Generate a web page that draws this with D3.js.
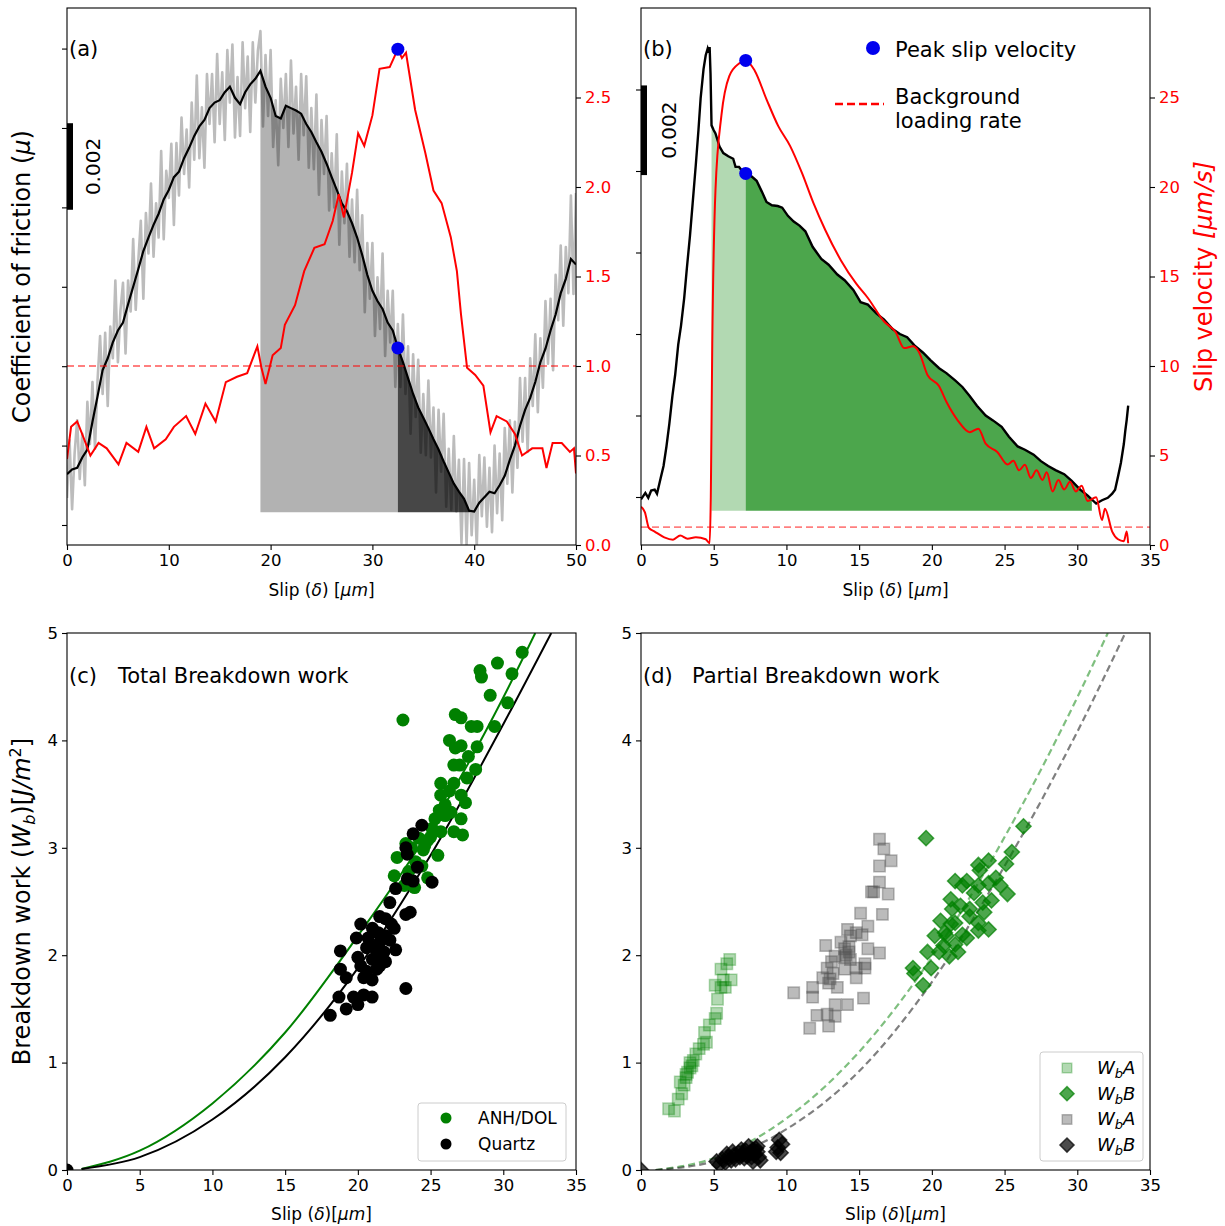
<!DOCTYPE html>
<html><head><meta charset="utf-8">
<script src="https://cdn.jsdelivr.net/npm/d3@7"></script>
<style>body{margin:0;background:#fff}text{font-family:"DejaVu Sans",sans-serif}</style>
</head><body><svg id="c" width="1225" height="1226"></svg>
<script>
// ---------------- DATA ----------------
// Panel (a): friction in axis-tick units (tick spacing ~0.0018), slip in um
const aFrictionTicks = [0,1,2,3,4,5,6];
const aVelTicks = [0,0.5,1.0,1.5,2.0,2.5];
const aSlipTicks = [0,10,20,30,40,50];
const aBlackStep = 0.5;
const aBlack = [0.64,0.70,0.72,0.85,0.95,1.30,1.62,1.95,2.10,2.30,2.45,2.55,2.78,3.0,3.22,3.45,3.62,3.78,3.92,4.10,
4.22,4.38,4.45,4.62,4.75,4.90,5.02,5.10,5.25,5.32,5.35,5.45,5.52,5.38,5.30,5.45,5.55,5.62,5.72,5.52,
5.38,5.15,5.12,5.28,5.25,5.22,5.18,5.05,4.95,4.82,4.70,4.55,4.38,4.22,4.05,3.95,3.80,3.62,3.40,3.15,
2.95,2.82,2.72,2.55,2.45,2.23,2.05,1.85,1.65,1.48,1.35,1.22,1.08,0.95,0.80,0.66,0.52,0.42,0.33,0.18,
0.17,0.28,0.35,0.42,0.40,0.50,0.62,0.82,1.00,1.25,1.45,1.60,1.80,2.05,2.22,2.45,2.65,2.92,3.10,3.35,3.28];
const aRawStep = 0.25;
const aRaw = [0.34,1.07,0.20,0.91,1.32,0.58,1.15,0.50,1.55,1.02,1.80,0.96,1.82,2.38,1.65,2.42,1.50,2.50,2.10,3.08,
2.05,2.70,3.05,2.16,3.08,2.69,3.60,2.71,3.32,3.83,2.85,3.93,3.42,4.30,3.38,4.05,3.62,4.71,3.60,4.46,
4.12,4.80,3.78,4.81,4.15,5.13,4.42,4.98,4.25,5.32,4.60,5.66,4.62,5.26,4.50,5.68,5.05,5.68,4.82,5.93,
5.05,5.70,4.85,5.98,5.32,6.05,4.88,5.64,4.90,6.08,5.25,5.90,4.95,6.08,5.32,5.97,6.22,5.02,5.92,5.15,
5.98,4.76,5.35,4.53,5.62,5.00,5.68,4.76,5.85,4.93,5.52,4.60,5.68,4.91,5.65,4.50,5.25,4.48,5.42,4.16,
5.10,4.42,5.15,3.96,4.68,4.00,4.92,3.53,4.45,3.80,4.55,3.38,4.10,3.31,4.22,3.21,3.90,2.68,3.55,2.85,
3.55,2.38,3.12,2.47,3.42,2.13,2.95,2.30,2.95,1.74,2.53,1.74,2.65,1.65,2.25,1.15,2.15,1.36,2.08,0.91,
1.65,0.88,1.82,0.85,1.48,0.41,1.45,0.67,1.40,0.23,0.96,0.19,1.12,0.17,0.82,-0.23,0.83,-0.25,0.78,-0.13,
0.57,-0.28,0.88,0.11,0.85,-0.02,0.72,-0.09,1.00,0.15,0.90,0.06,1.22,0.52,1.32,0.41,1.30,0.72,1.85,1.05,
1.85,0.92,2.10,1.50,2.40,1.42,2.35,1.73,2.82,2.03,2.85,1.95,3.15,2.58,3.52,2.51,3.50,2.92,4.15,2.91,4.18];
const aVelSlip = [0,0.4,1.0,1.56,2.3,3.1,3.9,5.06,5.84,7.0,7.8,8.56,9.7,10.5,11.7,12.6,13.6,14.6,15.6,16.7,
17.7,18.7,19.1,19.5,20.2,21.0,21.4,22.4,23.3,24.3,25.3,26.1,26.7,27.2,28.0,28.6,29.2,30.0,30.7,31.7,
32.5,32.9,33.3,34.2,35.2,36.0,36.8,37.7,38.3,38.7,39.3,40.1,40.9,41.6,42.2,43.2,44.0,44.7,45.7,46.7,
47.1,47.7,48.6,49.4,49.8,50];
const aVel = [0.48,0.66,0.69,0.61,0.50,0.57,0.54,0.45,0.57,0.52,0.66,0.54,0.59,0.66,0.72,0.62,0.79,0.69,0.91,0.94,
0.96,1.11,0.99,0.90,1.06,1.10,1.23,1.34,1.53,1.66,1.68,1.81,1.96,1.83,2.08,2.30,2.23,2.40,2.66,2.67,
2.77,2.72,2.75,2.43,2.19,1.98,1.91,1.72,1.53,1.29,0.99,0.95,0.89,0.63,0.72,0.69,0.62,0.50,0.54,0.54,
0.43,0.57,0.57,0.52,0.54,0.40];
const aFillLight = [19.0, 32.5];
const aFillDark = [32.5, 39.6];
const aFillBase = 0.16;
const aPeak = {slip: 32.5, vel: 2.77, fric: 2.23};
const aLoadRate = 1.0;
const aScaleBar = [3.97, 5.06];

// Panel (b)
const bFrictionTicks = [0,1,2,3,4,5];
const bVelTicks = [0,5,10,15,20,25];
const bSlipTicks = [0,5,10,15,20,25,30,35];
const bBlack = [[0,-0.03],[0.3,0.05],[0.5,-0.01],[0.7,0.08],[0.94,0.09],[1.1,0.04],[1.35,0.23],[1.55,0.38],[1.75,0.62],[1.95,0.9],
[2.16,1.24],[2.35,1.5],[2.56,1.87],[2.75,2.1],[2.97,2.44],[3.15,2.8],[3.37,3.21],[3.55,3.6],[3.77,4.08],[3.95,4.5],
[4.1,4.89],[4.3,5.25],[4.45,5.42],[4.58,5.5],[4.65,5.45],[4.72,5.52],[4.78,5.2],[4.85,4.56],[5.0,4.5],[5.12,4.46],
[5.4,4.3],[5.66,4.22],[6.0,4.18],[6.34,4.15],[6.5,4.05],[6.74,4.05],[7.0,3.99],[7.2,3.97],[7.5,3.95],[7.95,3.88],
[8.3,3.75],[8.63,3.62],[9.0,3.58],[9.4,3.57],[9.71,3.55],[10.1,3.45],[10.5,3.38],[10.9,3.33],[11.3,3.26],[11.8,3.07],
[12.4,2.92],[12.9,2.85],[13.5,2.73],[14.0,2.66],[14.6,2.54],[15.1,2.39],[15.6,2.36],[16.2,2.25],[16.7,2.18],[17.3,2.06],
[17.8,2.0],[18.3,1.96],[18.8,1.86],[19.4,1.77],[19.9,1.68],[20.5,1.58],[21.0,1.52],[21.6,1.43],[22.1,1.35],[22.6,1.24],
[23.1,1.12],[23.7,1.0],[24.2,0.94],[24.8,0.86],[25.3,0.74],[25.9,0.62],[26.4,0.58],[27.0,0.52],[27.5,0.44],[28.0,0.38],
[28.5,0.33],[29.1,0.28],[29.6,0.2],[30.2,0.09],[30.7,0.02],[31.3,-0.08],[31.7,-0.04],[32.1,-0.01],[32.4,0.04],[32.6,0.09],
[32.8,0.25],[33.0,0.42],[33.2,0.65],[33.3,0.81],[33.4,0.95],[33.5,1.12]];
const bVel = [[0,2.14],[0.27,1.82],[0.54,0.96],[0.94,0.75],[1.6,0.43],[2.2,0.3],[2.7,0.53],[3.2,0.35],[3.77,0.43],[4.45,0.32],
[4.72,0.1],[4.8,2.67],[4.9,11.2],[5.12,19.8],[5.53,24.0],[6.07,26.2],[6.74,26.9],[7.2,27.07],[7.82,26.5],[8.63,24.9],
[9.44,23.4],[10.25,22.3],[11.06,20.8],[11.86,19.1],[12.67,17.6],[13.75,15.9],[14.8,14.6],[15.6,13.8],[16.7,12.5],[17.5,11.9],
[18.1,11.0],[18.7,11.1],[19.1,10.8],[19.7,9.5],[20.5,8.87],[21.0,8.0],[21.8,6.94],[22.6,6.3],[23.2,6.5],[23.7,5.66],
[24.5,5.2],[25.2,4.5],[25.6,4.7],[26.0,4.17],[26.4,4.49],[26.8,3.74],[27.2,4.17],[27.6,3.63],[27.9,4.06],[28.3,2.99],
[28.7,3.63],[29.1,3.1],[29.5,3.53],[29.9,2.99],[30.3,3.31],[30.7,2.46],[31.3,2.67],[31.7,1.39],[31.9,2.03],[32.4,0.75],
[32.8,0.32],[33.2,0.21],[33.4,0.75],[33.5,0.1]];
const bFillLight = [4.85, 7.2];
const bFillDark = [7.2, 31.0];
const bFillBase = -0.17;
const bPeak = {slip: 7.2, vel: 27.07, fric: 3.97};
const bLoadRate = 1.0;
const bScaleBar = [3.95, 5.05];

// Panel (c)
const cSlipTicks = [0,5,10,15,20,25,30,35];
const cWTicks = [0,1,2,3,4,5];
const cAnhDol = [[23.1,4.19],[31.3,4.82],[29.6,4.72],[28.4,4.65],[28.5,4.59],[30.6,4.62],[29.1,4.42],[30.3,4.35],[26.7,4.24],[27.1,4.21],
[29.4,4.13],[27.8,4.13],[28.2,4.13],[26.3,4.0],[26.7,3.93],[27.1,3.95],[28.2,3.94],[27.6,3.85],[26.6,3.77],[27.0,3.77],
[28.1,3.73],[27.5,3.65],[25.7,3.6],[26.6,3.6],[26.3,3.53],[27.1,3.49],[25.7,3.49],[27.4,3.42],[26.0,3.40],[25.6,3.35],
[26.4,3.33],[25.3,3.27],[27.1,3.27],[25.1,3.18],[25.7,3.15],[26.6,3.15],[27.2,3.12],[24.2,3.09],[24.8,3.07],[23.3,3.04],
[23.7,3.0],[24.5,2.98],[25.5,2.93],[22.7,2.91],[23.97,2.87],[24.4,2.83],[22.5,2.74],[24.8,2.72],[23.2,2.65],[23.9,2.63],
[24.6,3.02],[25.0,3.1],[26.0,3.3],[23.5,2.78]];
const cQuartz = [[24.4,3.21],[23.8,3.13],[23.3,3.0],[23.4,2.94],[24.1,2.82],[23.4,2.71],[25.1,2.68],[23.8,2.69],[22.6,2.62],[22.2,2.49],
[23.6,2.40],[23.3,2.38],[21.5,2.36],[21.9,2.34],[22.3,2.29],[20.2,2.29],[22.5,2.25],[21.0,2.25],[21.4,2.21],[19.9,2.16],
[21.9,2.18],[20.7,2.16],[21.5,2.12],[22.2,2.14],[21.1,2.08],[20.6,2.07],[22.6,2.05],[18.8,2.04],[21.8,2.03],[21.3,2.0],
[20.0,1.98],[21.0,1.96],[21.9,1.94],[20.2,1.90],[21.5,1.90],[20.6,1.85],[21.3,1.87],[18.8,1.87],[19.2,1.79],[20.4,1.79],
[20.98,1.77],[23.3,1.69],[19.7,1.61],[18.7,1.61],[20.4,1.63],[20.98,1.61],[20.0,1.54],[19.2,1.5],[18.1,1.44],[0,0]];
const cFitAnhDol = [[1,0.01],[5,0.18],[10,0.62],[15,1.28],[20,2.18],[25,3.18],[30,4.4],[32.2,5.0]];
const cFitQuartz = [[1,0.01],[5,0.12],[10,0.47],[15,1.05],[20,1.88],[25,2.93],[30,4.15],[33.3,5.0]];

// Panel (d)
const dGreenA = [[1.9,0.57],[2.3,0.55],[2.56,0.66],[2.8,0.71],[2.97,0.79],[3.1,0.86],[3.2,0.91],[3.37,0.95],[3.5,0.97],[3.6,1.02],
[3.77,1.08],[4.0,1.13],[4.3,1.17],[4.5,1.19],[4.37,1.28],[4.7,1.35],[5.1,1.41],[5.2,1.46],[5.26,1.59],[5.1,1.72],
[5.5,1.70],[5.66,1.77],[5.5,1.87],[5.9,1.92],[6.1,1.96],[6.2,1.77],[5.8,1.70],[2.7,0.82],[3.1,0.89],[3.37,1.0]];
const dGreenB = [[19.6,3.09],[26.3,3.2],[25.5,2.96],[25.1,2.85],[23.2,2.84],[23.9,2.88],[23.3,2.79],[22.4,2.69],[21.6,2.69],[24.7,2.65],
[25.2,2.57],[23.9,2.67],[23.2,2.65],[22.1,2.65],[22.9,2.58],[21.3,2.52],[24.1,2.51],[23.5,2.49],[21.97,2.46],[21.4,2.43],
[22.6,2.43],[20.6,2.32],[21.6,2.30],[23.2,2.30],[23.9,2.24],[23.2,2.23],[22.4,2.16],[20.2,2.18],[21.0,2.18],[20.8,2.09],
[21.6,2.10],[22.1,2.19],[21.8,2.03],[21.2,1.99],[19.7,2.03],[20.5,2.03],[20.9,2.21],[18.7,1.88],[18.8,1.83],[19.95,1.88],
[19.4,1.72],[21.3,2.29],[22.6,2.36],[23.6,2.40],[24.4,2.72]];
const dGrayA = [[16.4,3.08],[16.7,2.99],[17.2,2.88],[16.4,2.83],[16.4,2.68],[16.0,2.59],[15.85,2.59],[17.0,2.57],[15.1,2.39],[16.6,2.38],
[15.6,2.27],[14.2,2.24],[14.8,2.21],[15.2,2.19],[14.4,2.18],[13.75,2.12],[12.7,2.09],[14.0,2.06],[15.6,2.06],[14.3,2.03],
[16.4,2.02],[13.35,1.99],[14.0,1.98],[14.4,1.96],[13.1,1.94],[15.4,1.92],[14.8,1.88],[12.8,1.88],[14.0,1.87],[15.4,1.88],
[13.2,1.83],[12.5,1.79],[14.8,1.79],[12.9,1.74],[13.5,1.70],[11.8,1.70],[10.5,1.65],[11.8,1.61],[15.3,1.60],[14.2,1.54],
[13.35,1.54],[12.1,1.44],[13.35,1.43],[12.8,1.45],[12.9,1.34],[11.6,1.32],[14.1,2.0],[14.3,2.08],[13.0,1.78]];
const dBlackB = [[5.2,0.08],[5.4,0.05],[5.6,0.10],[5.8,0.07],[6.0,0.12],[6.2,0.09],[6.4,0.14],[6.5,0.1],[6.7,0.16],[6.8,0.12],
[7.0,0.15],[7.1,0.11],[7.2,0.18],[7.3,0.13],[7.4,0.22],[7.5,0.16],[7.6,0.12],[7.7,0.19],[7.8,0.14],[7.9,0.2],
[8.0,0.17],[8.1,0.12],[8.2,0.09],[5.9,0.15],[6.3,0.17],[6.9,0.19],[7.7,0.08],[8.0,0.22],[9.3,0.17],[9.5,0.28],
[9.7,0.24],[9.6,0.16],[9.4,0.21],[0,0]];
const dFitGreen = [[1,0.0],[5,0.11],[10,0.48],[15,1.1],[20,1.98],[25,3.1],[30,4.4],[32.1,5.0]];
const dFitGray = [[1,0.0],[5,0.08],[10,0.38],[15,0.92],[20,1.75],[25,2.83],[30,4.08],[33.3,5.0]];

// ---------------- DRAW ----------------
const svg = d3.select("#c");
const FONT = '"DejaVu Sans",sans-serif';
const TICK_FS = 16.5, XLAB_FS = 17, YLAB_FS = 24, TITLE_FS = 21;
const P = {
  a:{l:67,r:576,t:8,b:545}, b:{l:641,r:1150,t:8,b:545},
  c:{l:67,r:576,t:633,b:1170}, d:{l:641,r:1150,t:633,b:1170}
};
let clipN = 0;
function clip(p){
  const id = "clip"+(clipN++);
  svg.append("clipPath").attr("id",id).append("rect")
    .attr("x",p.l).attr("y",p.t).attr("width",p.r-p.l).attr("height",p.b-p.t);
  return "url(#"+id+")";
}
function styleAxis(g, color){
  g.select(".domain").remove();
  g.selectAll(".tick line").attr("stroke","#000").attr("stroke-width",1.1);
  g.selectAll(".tick text").attr("font-family",FONT).attr("font-size",TICK_FS).attr("fill",color||"#000");
}
function frame(p){
  svg.append("rect").attr("x",p.l).attr("y",p.t).attr("width",p.r-p.l).attr("height",p.b-p.t)
    .attr("fill","none").attr("stroke","#000").attr("stroke-width",1.1);
}
function interp(pts, x){
  for(let i=1;i<pts.length;i++){
    if(pts[i][0]>=x){const a=pts[i-1],b=pts[i];const t=(x-a[0])/(b[0]-a[0]);return a[1]+t*(b[1]-a[1]);}
  }
  return pts[pts.length-1][1];
}
function fillPts(pts, x0, x1){
  const inner = pts.filter(d=>d[0]>x0 && d[0]<x1);
  return [[x0,interp(pts,x0)], ...inner, [x1,interp(pts,x1)]];
}
function addItalic(t, s){ t.append("tspan").attr("font-style","italic").text(s); }
function slipLabel(p, y, spaced){
  const xl=svg.append("text").attr("x",(p.l+p.r)/2).attr("y",y).attr("text-anchor","middle").attr("font-size",XLAB_FS);
  xl.append("tspan").text("Slip ("); addItalic(xl,"δ"); xl.append("tspan").text(spaced?") [":")["); addItalic(xl,"μm"); xl.append("tspan").text("]");
}

// ---- Panel (a) ----
(function(){
  const p=P.a;
  const x=d3.scaleLinear().domain([0,50]).range([p.l,p.r]);
  const yL=d3.scaleLinear().domain([-0.252,6.511]).range([p.b,p.t]);
  const yR=d3.scaleLinear().domain([0,3]).range([p.b,p.t]);
  const cp=clip(p);
  const g=svg.append("g").attr("clip-path",cp);
  const black=aBlack.map((v,i)=>[i*aBlackStep,v]);
  const raw=aRaw.map((v,i)=>[i*aRawStep,v]);
  g.append("path").datum(raw).attr("fill","none").attr("stroke","#a6a6a6").attr("stroke-opacity",0.75).attr("stroke-width",2.6)
    .attr("stroke-linejoin","round").attr("d",d3.line().x(d=>x(d[0])).y(d=>yL(d[1])));
  const area=d3.area().x(d=>x(d[0])).y0(yL(aFillBase)).y1(d=>yL(d[1]));
  g.append("path").datum(fillPts(black,aFillLight[0],aFillLight[1])).attr("fill","#000").attr("fill-opacity",0.3).attr("d",area);
  g.append("path").datum(fillPts(black,aFillDark[0],aFillDark[1])).attr("fill","#000").attr("fill-opacity",0.72).attr("d",area);
  g.append("path").datum(black).attr("fill","none").attr("stroke","#000").attr("stroke-width",2.2)
    .attr("d",d3.line().x(d=>x(d[0])).y(d=>yL(d[1])));
  g.append("line").attr("x1",p.l).attr("x2",p.r).attr("y1",yR(aLoadRate)).attr("y2",yR(aLoadRate))
    .attr("stroke","red").attr("stroke-opacity",0.5).attr("stroke-width",1.8).attr("stroke-dasharray","7,4");
  g.append("path").datum(aVelSlip.map((s,i)=>[s,aVel[i]])).attr("fill","none").attr("stroke","red").attr("stroke-width",2)
    .attr("d",d3.line().x(d=>x(d[0])).y(d=>yR(d[1])));
  svg.append("circle").attr("cx",x(aPeak.slip)).attr("cy",yR(aPeak.vel)).attr("r",6.5).attr("fill","#0000ee");
  svg.append("circle").attr("cx",x(aPeak.slip)).attr("cy",yL(aPeak.fric)).attr("r",6.5).attr("fill","#0000ee");
  frame(p);
  svg.append("g").attr("transform",`translate(0,${p.b})`).call(d3.axisBottom(x).tickValues(aSlipTicks).tickSize(5).tickPadding(4)).call(g=>styleAxis(g));
  svg.append("g").attr("transform",`translate(${p.l},0)`).call(d3.axisLeft(yL).tickValues(aFrictionTicks).tickFormat("").tickSize(5)).call(g=>styleAxis(g));
  svg.append("g").attr("transform",`translate(${p.r},0)`).call(d3.axisRight(yR).tickValues(aVelTicks).tickFormat(d3.format(".1f")).tickSize(5).tickPadding(4)).call(g=>styleAxis(g,"red"));
  svg.append("rect").attr("x",p.l).attr("y",yL(aScaleBar[1])).attr("width",6).attr("height",yL(aScaleBar[0])-yL(aScaleBar[1])).attr("fill","#000");
  svg.append("text").attr("transform",`translate(${p.l+33},${(yL(aScaleBar[0])+yL(aScaleBar[1]))/2}) rotate(-90)`)
    .attr("text-anchor","middle").attr("font-size",20).text("0.002");
  svg.append("text").attr("x",p.l+2).attr("y",56).attr("font-size",TITLE_FS).text("(a)");
  slipLabel(p,596,true);
  const yl=svg.append("text").attr("transform",`translate(30,${(p.t+p.b)/2}) rotate(-90)`).attr("text-anchor","middle").attr("font-size",YLAB_FS);
  yl.append("tspan").text("Coefficient of friction ("); addItalic(yl,"μ"); yl.append("tspan").text(")");
})();

// ---- Panel (b) ----
(function(){
  const p=P.b;
  const x=d3.scaleLinear().domain([0,35]).range([p.l,p.r]);
  const yL=d3.scaleLinear().domain([-0.589,6.0]).range([p.b,p.t]);
  const yR=d3.scaleLinear().domain([0,30]).range([p.b,p.t]);
  const cp=clip(p);
  const g=svg.append("g").attr("clip-path",cp);
  const area=d3.area().x(d=>x(d[0])).y0(yL(bFillBase)).y1(d=>yL(d[1]));
  g.append("path").datum(fillPts(bBlack,bFillLight[0],bFillLight[1])).attr("fill","green").attr("fill-opacity",0.3).attr("d",area);
  g.append("path").datum(fillPts(bBlack,bFillDark[0],bFillDark[1])).attr("fill","green").attr("fill-opacity",0.7).attr("d",area);
  g.append("path").datum(bBlack).attr("fill","none").attr("stroke","#000").attr("stroke-width",2.4)
    .attr("d",d3.line().x(d=>x(d[0])).y(d=>yL(d[1])));
  g.append("line").attr("x1",p.l).attr("x2",p.r).attr("y1",yR(bLoadRate)).attr("y2",yR(bLoadRate))
    .attr("stroke","red").attr("stroke-opacity",0.5).attr("stroke-width",1.8).attr("stroke-dasharray","7,4");
  g.append("path").datum(bVel).attr("fill","none").attr("stroke","red").attr("stroke-width",2)
    .attr("d",d3.line().curve(d3.curveMonotoneX).x(d=>x(d[0])).y(d=>yR(d[1])));
  svg.append("circle").attr("cx",x(bPeak.slip)).attr("cy",yR(bPeak.vel)).attr("r",6.5).attr("fill","#0000ee");
  svg.append("circle").attr("cx",x(bPeak.slip)).attr("cy",yL(bPeak.fric)).attr("r",6.5).attr("fill","#0000ee");
  frame(p);
  svg.append("g").attr("transform",`translate(0,${p.b})`).call(d3.axisBottom(x).tickValues(bSlipTicks).tickSize(5).tickPadding(4)).call(g=>styleAxis(g));
  svg.append("g").attr("transform",`translate(${p.l},0)`).call(d3.axisLeft(yL).tickValues(bFrictionTicks).tickFormat("").tickSize(5)).call(g=>styleAxis(g));
  svg.append("g").attr("transform",`translate(${p.r},0)`).call(d3.axisRight(yR).tickValues(bVelTicks).tickFormat(d3.format("d")).tickSize(5).tickPadding(4)).call(g=>styleAxis(g,"red"));
  svg.append("rect").attr("x",p.l).attr("y",yL(bScaleBar[1])).attr("width",6).attr("height",yL(bScaleBar[0])-yL(bScaleBar[1])).attr("fill","#000");
  svg.append("text").attr("transform",`translate(${p.l+35},${(yL(bScaleBar[0])+yL(bScaleBar[1]))/2}) rotate(-90)`)
    .attr("text-anchor","middle").attr("font-size",20).text("0.002");
  svg.append("text").attr("x",p.l+2).attr("y",56).attr("font-size",TITLE_FS).text("(b)");
  // legend
  svg.append("circle").attr("cx",873).attr("cy",48).attr("r",7).attr("fill","#0000ee");
  svg.append("text").attr("x",895).attr("y",57).attr("font-size",TITLE_FS).text("Peak slip velocity");
  svg.append("line").attr("x1",835).attr("x2",884).attr("y1",104).attr("y2",104).attr("stroke","red").attr("stroke-width",2.5).attr("stroke-dasharray","8,4");
  svg.append("text").attr("x",895).attr("y",104).attr("font-size",TITLE_FS).text("Background");
  svg.append("text").attr("x",895).attr("y",128).attr("font-size",TITLE_FS).text("loading rate");
  slipLabel(p,596,true);
  const yl=svg.append("text").attr("transform",`translate(1212,${(p.t+p.b)/2}) rotate(-90)`).attr("text-anchor","middle").attr("font-size",YLAB_FS).attr("fill","red");
  yl.append("tspan").text("Slip velocity "); addItalic(yl,"[μm/s]");
})();

// ---- Panel (c) ----
(function(){
  const p=P.c;
  const x=d3.scaleLinear().domain([0,35]).range([p.l,p.r]);
  const y=d3.scaleLinear().domain([0,5]).range([p.b,p.t]);
  const cp=clip(p);
  const g=svg.append("g").attr("clip-path",cp);
  const line=d3.line().curve(d3.curveMonotoneX).x(d=>x(d[0])).y(d=>y(d[1]));
  g.append("path").datum(cFitAnhDol).attr("fill","none").attr("stroke","green").attr("stroke-width",2).attr("d",line);
  g.append("path").datum(cFitQuartz).attr("fill","none").attr("stroke","#000").attr("stroke-width",2).attr("d",line);
  g.selectAll(".gq").data(cAnhDol).join("circle").attr("cx",d=>x(d[0])).attr("cy",d=>y(d[1])).attr("r",6.5).attr("fill","green");
  g.selectAll(".bq").data(cQuartz).join("circle").attr("cx",d=>x(d[0])).attr("cy",d=>y(d[1])).attr("r",6.5).attr("fill","#000");
  frame(p);
  svg.append("g").attr("transform",`translate(0,${p.b})`).call(d3.axisBottom(x).tickValues(cSlipTicks).tickSize(5).tickPadding(4)).call(g=>styleAxis(g));
  svg.append("g").attr("transform",`translate(${p.l},0)`).call(d3.axisLeft(y).tickValues(cWTicks).tickFormat(d3.format("d")).tickSize(5).tickPadding(4)).call(g=>styleAxis(g));
  svg.append("text").attr("x",p.l+2).attr("y",683).attr("font-size",TITLE_FS).text("(c)");
  svg.append("text").attr("x",118).attr("y",683).attr("font-size",TITLE_FS).text("Total Breakdown work");
  // legend
  svg.append("rect").attr("x",418).attr("y",1103).attr("width",148).attr("height",58).attr("rx",3)
    .attr("fill","#fff").attr("fill-opacity",0.8).attr("stroke","#ccc").attr("stroke-width",1);
  svg.append("circle").attr("cx",446).attr("cy",1118).attr("r",5.5).attr("fill","green");
  svg.append("circle").attr("cx",446).attr("cy",1144).attr("r",5.5).attr("fill","#000");
  svg.append("text").attr("x",478).attr("y",1124).attr("font-size",17).text("ANH/DOL");
  svg.append("text").attr("x",478).attr("y",1150).attr("font-size",17).text("Quartz");
  slipLabel(p,1220,false);
  const yl=svg.append("text").attr("transform",`translate(30,${(p.t+p.b)/2}) rotate(-90)`).attr("text-anchor","middle").attr("font-size",YLAB_FS);
  yl.append("tspan").text("Breakdown work (");
  addItalic(yl,"W");
  yl.append("tspan").attr("font-style","italic").attr("font-size",16).attr("dy",5).text("b");
  yl.append("tspan").attr("dy",-5).text(")[");
  addItalic(yl,"J/m");
  yl.append("tspan").attr("font-size",16).attr("dy",-9).text("2");
  yl.append("tspan").attr("dy",9).text("]");
})();

// ---- Panel (d) ----
(function(){
  const p=P.d;
  const x=d3.scaleLinear().domain([0,35]).range([p.l,p.r]);
  const y=d3.scaleLinear().domain([0,5]).range([p.b,p.t]);
  const cp=clip(p);
  const g=svg.append("g").attr("clip-path",cp);
  const line=d3.line().curve(d3.curveMonotoneX).x(d=>x(d[0])).y(d=>y(d[1]));
  g.append("path").datum(dFitGreen).attr("fill","none").attr("stroke","green").attr("stroke-opacity",0.5).attr("stroke-width",2.2).attr("stroke-dasharray","7,4").attr("d",line);
  g.append("path").datum(dFitGray).attr("fill","none").attr("stroke","#000").attr("stroke-opacity",0.5).attr("stroke-width",2.2).attr("stroke-dasharray","7,4").attr("d",line);
  const sq=d3.symbol().type(d3.symbolSquare).size(130);
  const dia=d3.symbol().type(d3.symbolSquare).size(115);
  function pts(data,shape,rot,color,op){
    g.append("g").selectAll("path").data(data).join("path")
      .attr("transform",d=>`translate(${x(d[0])},${y(d[1])}) rotate(${rot})`).attr("d",shape)
      .attr("fill",color).attr("fill-opacity",op).attr("stroke",color).attr("stroke-opacity",op).attr("stroke-width",1.5);
  }
  pts(dGreenA,sq,0,"green",0.3);
  pts(dGreenB,dia,45,"green",0.7);
  pts(dGrayA,sq,0,"#555",0.4);
  pts(dBlackB,dia,45,"#000",0.7);
  frame(p);
  svg.append("g").attr("transform",`translate(0,${p.b})`).call(d3.axisBottom(x).tickValues(cSlipTicks).tickSize(5).tickPadding(4)).call(g=>styleAxis(g));
  svg.append("g").attr("transform",`translate(${p.l},0)`).call(d3.axisLeft(y).tickValues(cWTicks).tickFormat(d3.format("d")).tickSize(5).tickPadding(4)).call(g=>styleAxis(g));
  svg.append("text").attr("x",p.l+2).attr("y",683).attr("font-size",TITLE_FS).text("(d)");
  svg.append("text").attr("x",692).attr("y",683).attr("font-size",TITLE_FS).text("Partial Breakdown work");
  // legend
  svg.append("rect").attr("x",1040).attr("y",1052).attr("width",103).attr("height",109).attr("rx",3)
    .attr("fill","#fff").attr("fill-opacity",0.8).attr("stroke","#ccc").attr("stroke-width",1);
  const lg=[["green",0.3,0],["green",0.7,45],["#555",0.4,0],["#000",0.7,45]];
  const sqL=d3.symbol().type(d3.symbolSquare).size(90);
  const diaL=d3.symbol().type(d3.symbolSquare).size(100);
  lg.forEach((e,i)=>{
    const cy=1068+i*25.7;
    svg.append("path").attr("transform",`translate(1067,${cy}) rotate(${e[2]})`).attr("d",e[2]?diaL:sqL)
      .attr("fill",e[0]).attr("fill-opacity",e[1]).attr("stroke",e[0]).attr("stroke-opacity",e[1]).attr("stroke-width",1.5);
    const t=svg.append("text").attr("x",1097).attr("y",cy+6).attr("font-size",18).attr("font-style","italic");
    t.append("tspan").text("W");
    t.append("tspan").attr("font-size",13).attr("dy",4).text("b");
    t.append("tspan").attr("dy",-4).text(i%2===0?"A":"B");
  });
  slipLabel(p,1220,false);
})();
</script></body></html>
